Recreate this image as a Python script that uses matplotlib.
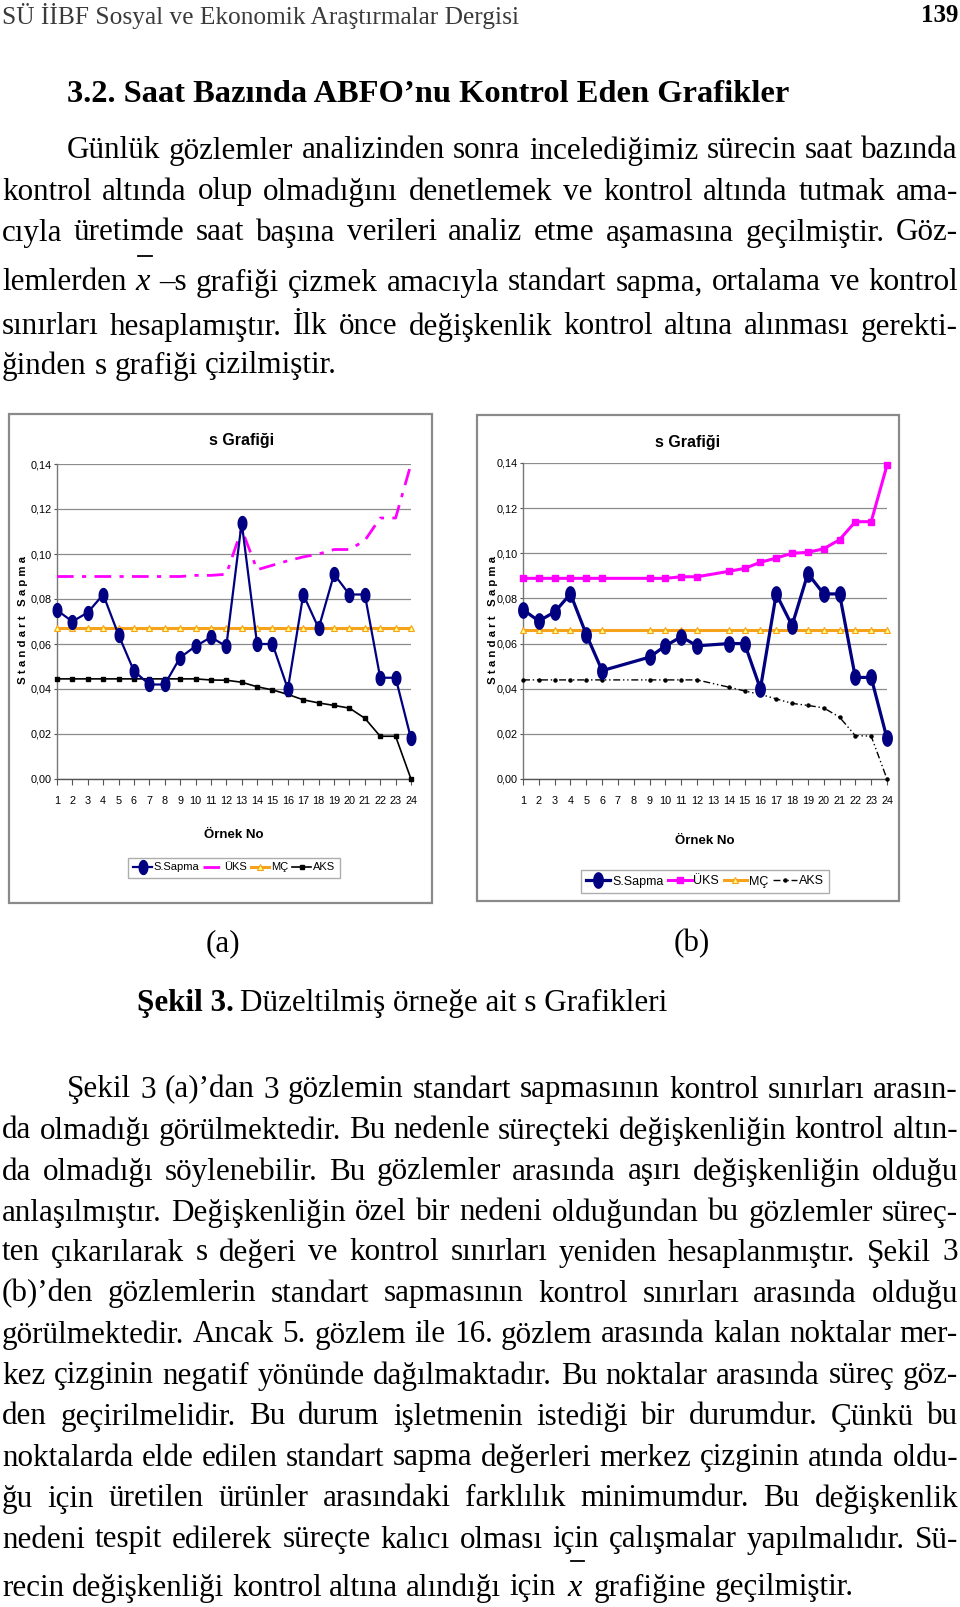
import matplotlib
matplotlib.use('Agg')
import matplotlib.pyplot as plt
import numpy as np
from matplotlib.path import Path
from matplotlib.lines import Line2D
from matplotlib.patches import Rectangle

W, H = 960, 1607
SERIF = 'Liberation Serif'
NARROW = 'Liberation Sans Narrow'
from matplotlib import font_manager
_names = {f.name for f in font_manager.fontManager.ttflist}
if NARROW not in _names:
    NARROW = 'Liberation Sans'

# ---- data -----------------------------------------------------------
orn = list(range(1, 25))

# (a) all 24 samples
s_a = [0.075, 0.070, 0.074, 0.082, 0.064, 0.048, 0.042, 0.042, 0.054, 0.059,
       0.063, 0.059, 0.114, 0.060, 0.060, 0.040, 0.082, 0.067, 0.091, 0.082,
       0.082, 0.045, 0.045, 0.018]
uks_a = [0.090, 0.090, 0.090, 0.090, 0.090, 0.090, 0.090, 0.090, 0.090, 0.0905,
         0.0905, 0.091, 0.111, 0.093, 0.095, 0.097, 0.0987, 0.100, 0.102, 0.102,
         0.106, 0.116, 0.116, 0.140]
mc_a = [0.067] * 24
aks_a = [0.0445, 0.0445, 0.0445, 0.0445, 0.0445, 0.0445, 0.0445, 0.0445, 0.0445, 0.0445,
         0.044, 0.0439, 0.043, 0.041, 0.0396, 0.0376, 0.0352, 0.0338, 0.0327, 0.0315,
         0.027, 0.019, 0.019, 0.000]

# (b) samples 7, 8 and 13 removed
orn_b = [1, 2, 3, 4, 5, 6, 9, 10, 11, 12, 14, 15, 16, 17, 18, 19, 20, 21, 22, 23, 24]
s_b = [0.075, 0.070, 0.074, 0.082, 0.064, 0.048, 0.054, 0.059, 0.063, 0.059,
       0.060, 0.060, 0.040, 0.082, 0.068, 0.091, 0.082, 0.082, 0.045, 0.045, 0.018]
uks_b = [0.0889, 0.0889, 0.0889, 0.0889, 0.0889, 0.0889, 0.0889, 0.0889, 0.0896, 0.0896,
         0.092, 0.0933, 0.096, 0.0979, 0.100, 0.1004, 0.102, 0.106, 0.114, 0.114, 0.139]
mc_b = [0.066] * 21
aks_b = [0.0439, 0.0439, 0.0439, 0.0439, 0.0439, 0.0439, 0.0439, 0.0439, 0.0439, 0.0439,
         0.0407, 0.039, 0.0375, 0.0355, 0.0335, 0.0326, 0.0315, 0.0274, 0.0192, 0.019, 0.000]

yticks = [0.00, 0.02, 0.04, 0.06, 0.08, 0.10, 0.12, 0.14]

para1 = [
    "Günlük gözlemler analizinden sonra incelediğimiz sürecin saat bazında",
    "kontrol altında olup olmadığını denetlemek ve kontrol altında tutmak ama-",
    "cıyla üretimde saat başına verileri analiz etme aşamasına geçilmiştir. Göz-",
    "lemlerden XBAR –s grafiği çizmek amacıyla standart sapma, ortalama ve kontrol",
    "sınırları hesaplamıştır. İlk önce değişkenlik kontrol altına alınması gerekti-",
    "ğinden s grafiği çizilmiştir.",
]
para1_y = [151, 192, 233, 283, 327, 366]

para2 = [
    "Şekil 3 (a)’dan 3 gözlemin standart sapmasının kontrol sınırları arasın-",
    "da olmadığı görülmektedir. Bu nedenle süreçteki değişkenliğin kontrol altın-",
    "da olmadığı söylenebilir. Bu gözlemler arasında aşırı değişkenliğin olduğu",
    "anlaşılmıştır. Değişkenliğin özel bir nedeni olduğundan bu gözlemler süreç-",
    "ten çıkarılarak s değeri ve kontrol sınırları yeniden hesaplanmıştır. Şekil 3",
    "(b)’den gözlemlerin standart sapmasının kontrol sınırları arasında olduğu",
    "görülmektedir. Ancak 5. gözlem ile 16. gözlem arasında kalan noktalar mer-",
    "kez çizginin negatif yönünde dağılmaktadır. Bu noktalar arasında süreç göz-",
    "den geçirilmelidir. Bu durum işletmenin istediği bir durumdur. Çünkü bu",
    "noktalarda elde edilen standart sapma değerleri merkez çizginin atında oldu-",
    "ğu için üretilen ürünler arasındaki farklılık minimumdur. Bu değişkenlik",
    "nedeni tespit edilerek süreçte kalıcı olması için çalışmalar yapılmalıdır. Sü-",
    "recin değişkenliği kontrol altına alındığı için XBAR grafiğine geçilmiştir.",
]
para2_y = [1090, 1131, 1172, 1213, 1253, 1294, 1335, 1376, 1417, 1458, 1499, 1540, 1588]

fig = plt.figure(figsize=(9.6, 16.07), dpi=100)
fig.patch.set_facecolor('white')
renderer = fig.canvas.get_renderer()


def fx(x):
    return x / W


def fy(y):
    return 1 - y / H


BODY = 22.4


def text_line(s, x0, x1, y, size=BODY, justify=True, xbar_gap=None):
    words = s.split(' ')
    arts = []
    for w in words:
        if w == 'XBAR':
            a = fig.text(0, fy(y), 'x', fontsize=size + 1, family=SERIF,
                         style='italic', va='center', ha='left')
        else:
            a = fig.text(0, fy(y), w, fontsize=size, family=SERIF,
                         va='center', ha='left')
        arts.append(a)
    widths = [a.get_window_extent(renderer).width for a in arts]
    if justify and len(words) > 1:
        gap = (x1 - x0 - sum(widths)) / (len(words) - 1)
        gaps = [gap] * len(words)
    else:
        sp = fig.text(0, 0, 'a a', fontsize=size, family=SERIF)
        sp2 = fig.text(0, 0, 'aa', fontsize=size, family=SERIF)
        gap = sp.get_window_extent(renderer).width - sp2.get_window_extent(renderer).width
        sp.remove()
        sp2.remove()
        gaps = [gap] * len(words)
        if xbar_gap is not None and 'XBAR' in words:
            k = words.index('XBAR')
            gaps[k - 1] = xbar_gap
            gaps[k] = xbar_gap
    x = x0
    for w, a, wd, g in zip(words, arts, widths, gaps):
        a.set_x(fx(x))
        if w == 'XBAR':
            fig.add_artist(Line2D([fx(x + 3), fx(x + wd + 2)], [fy(y - 27), fy(y - 27)],
                                  color='black', lw=1.3))
        x += wd + g


# header
fig.text(fx(2), fy(16), "SÜ İİBF Sosyal ve Ekonomik Araştırmalar Dergisi",
         fontsize=18.3, family=SERIF, color='#3a3a3a', va='center', ha='left')
fig.text(fx(958), fy(16), "139", fontsize=18, family=SERIF, weight='bold',
         va='center', ha='right')

# heading
fig.text(fx(67), fy(95), "3.2. Saat Bazında ABFO’nu Kontrol Eden Grafikler",
         fontsize=23.4, family=SERIF, weight='bold', va='center', ha='left')

for i, (ln, y) in enumerate(zip(para1, para1_y)):
    x0 = 67 if i == 0 else 2
    text_line(ln, x0, 958, y, justify=(i < len(para1) - 1))

for i, (ln, y) in enumerate(zip(para2, para2_y)):
    x0 = 67 if i == 0 else 2
    text_line(ln, x0, 958, y, justify=(i < len(para2) - 1), xbar_gap=12)

fig.text(fx(223), fy(944), "(a)", fontsize=BODY, family=SERIF, va='center', ha='center')
fig.text(fx(692), fy(944), "(b)", fontsize=BODY, family=SERIF, va='center', ha='center')
t1 = fig.text(fx(137), fy(1003), "Şekil 3.", fontsize=BODY, family=SERIF,
              weight='bold', va='center', ha='left')
w1 = t1.get_window_extent(renderer).width
fig.text(fx(137 + w1 + 6), fy(1003), "Düzeltilmiş örneğe ait s Grafikleri",
         fontsize=BODY, family=SERIF, va='center', ha='left')

# ---- charts ---------------------------------------------------------
t = np.linspace(0, 2 * np.pi, 40)
ell = Path(np.column_stack([0.62 * np.cos(t), np.sin(t)]), closed=True)

NAVY = '#000080'
MAG = '#FF00FF'
ORANGE = '#F7A21B'
TRI = '#FFFF80'
GRID = '#8C8C8C'


def chart(frame, plot, xs, s, xu, u, xm, m, xl, l, b, legend_box, ttl_xy, xl_xy, yl_xy):
    fx0, fy0, fx1, fy1 = frame
    fig.add_artist(Rectangle((fx(fx0), fy(fy1)), fx(fx1) - fx(fx0), fy(fy0) - fy(fy1),
                             transform=fig.transFigure, facecolor='white',
                             edgecolor='#8a8a8a', lw=1.6, zorder=0))
    px0, py0, px1, py1 = plot
    ax = fig.add_axes([fx(px0), fy(py1), fx(px1) - fx(px0), fy(py0) - fy(py1)])
    ax.set_facecolor('none')
    ax.set_xlim(1, 24)
    ax.set_ylim(0, 0.14)
    ax.set_yticks(yticks)
    ax.set_yticklabels([('%.2f' % v).replace('.', ',') for v in yticks],
                       family=NARROW, fontsize=7.8)
    ax.set_xticks(orn)
    ax.set_xticklabels([str(v) for v in orn], family=NARROW, fontsize=7.8)
    ax.tick_params(axis='y', length=2, width=0.8, color='#555555', pad=2)
    ax.tick_params(axis='x', length=4, width=0.8, color='#555555', pad=8)
    ax.grid(axis='y', color=GRID, lw=0.9)
    ax.set_axisbelow(True)
    for sp in ['top', 'right']:
        ax.spines[sp].set_visible(False)
    ax.spines['left'].set_color('#777777')
    ax.spines['bottom'].set_color('#555555')
    for sp in ['left', 'bottom']:
        ax.spines[sp].set_linewidth(1.0)

    if b:
        h_u, = ax.plot(xu, u, color=MAG, lw=2.2, marker='s', ms=4.5,
                       mec=MAG, mfc=MAG, zorder=3, label='ÜKS')
        h_l, = ax.plot(xl, l, color='black', lw=1.0, ls=(0, (5, 2, 1, 2, 1, 2)),
                       marker='o', ms=2.2, zorder=3, label='AKS')
        lw_s = 2.3
        ms_s = 11
    else:
        h_u, = ax.plot(xu, u, color=MAG, lw=2.0, ls=(0, (6, 3, 1.5, 3)),
                       zorder=3, label='ÜKS')
        h_l, = ax.plot(xl, l, color='black', lw=1.2, marker='s', ms=2.2,
                       zorder=3, label='AKS')
        lw_s = 1.6
        ms_s = 10
    h_m, = ax.plot(xm, m, color=ORANGE, lw=2.2, marker='^', ms=5, mfc=TRI,
                   mec=ORANGE, mew=0.8, zorder=3, label='MÇ')
    h_s, = ax.plot(xs, s, color=NAVY, lw=lw_s, marker=ell, ms=ms_s,
                   mfc=NAVY, mec=NAVY, zorder=4, label='S.Sapma')
    for ln in ax.lines:
        ln.set_clip_on(False)

    fig.text(fx(ttl_xy[0]), fy(ttl_xy[1]), 's Grafiği', family=NARROW,
             weight='bold', fontsize=11.5, ha='center', va='center')
    fig.text(fx(xl_xy[0]), fy(xl_xy[1]), 'Örnek No', family=NARROW,
             weight='bold', fontsize=9.5, ha='center', va='center')
    fig.text(fx(yl_xy[0]), fy(yl_xy[1]), ' '.join('Standart') + '   ' + ' '.join('Sapma'),
             family=NARROW, weight='bold', fontsize=8.2, rotation=90,
             ha='center', va='center')

    lx0, ly0, lx1, ly1 = legend_box
    leg = ax.legend([h_s, h_u, h_m, h_l], ['S.Sapma', 'ÜKS', 'MÇ', 'AKS'],
                    loc='center', ncol=4,
                    bbox_to_anchor=(fx((lx0 + lx1) / 2), fy((ly0 + ly1) / 2)),
                    bbox_transform=fig.transFigure, frameon=True, fancybox=False,
                    edgecolor='#999999', handlelength=1.9 if b else 1.7,
                    handletextpad=0.15, columnspacing=0.35, borderpad=0.45,
                    borderaxespad=0,
                    prop={'family': NARROW, 'size': 9 if b else 8})
    leg.get_frame().set_linewidth(1.0)
    return ax


chart((9, 414, 432, 903), (57, 464, 411, 779),
      orn, s_a, orn, uks_a, orn, mc_a, orn, aks_a, False,
      (127, 852, 341, 883), (242, 441), (234, 835), (23, 620))
chart((477, 415, 899, 901), (523, 463, 887, 779),
      orn_b, s_b, orn_b, uks_b, orn_b, mc_b, orn_b, aks_b, True,
      (579, 864, 831, 899), (688, 442), (705, 841), (493, 620))

fig.savefig('out.png', dpi=100, facecolor='white')
